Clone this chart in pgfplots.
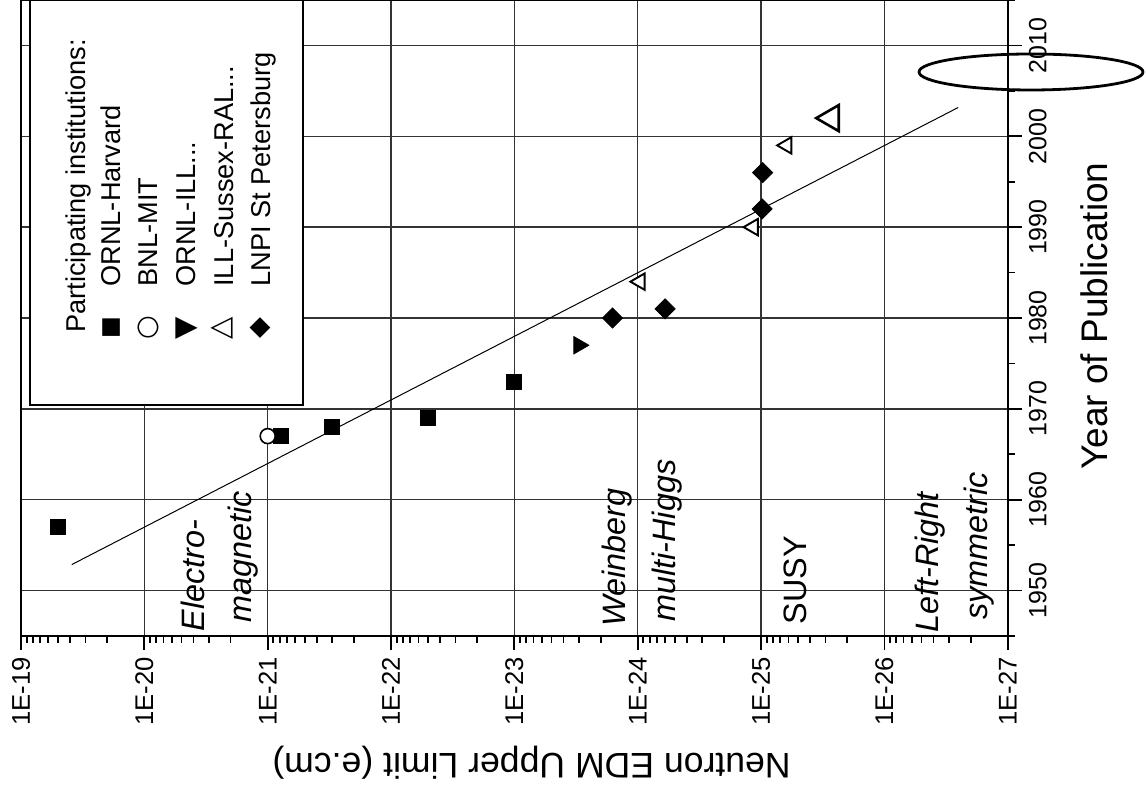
\documentclass[border=0pt]{standalone}
\usepackage{fontspec}
\setmainfont{Liberation Sans}
\newfontfamily\symfont{DejaVu Sans}
\usepackage{pgfplots}
\pgfplotsset{compat=1.18}

\begin{document}
\begin{tikzpicture}
\begin{axis}[
  scale only axis, width=493.35pt, height=318pt,
  xmode=log, x dir=reverse, xmin=1e-27, xmax=1e-19,
  ymin=1945, ymax=2015,
  xtick={1e-27,1e-26,1e-25,1e-24,1e-23,1e-22,1e-21,1e-20,1e-19},
  xticklabels={1E-27,1E-26,1E-25,1E-24,1E-23,1E-22,1E-21,1E-20,1E-19},
  minor xtick={2e-27,3e-27,4e-27,5e-27,6e-27,7e-27,8e-27,9e-27,
               2e-26,3e-26,4e-26,5e-26,6e-26,7e-26,8e-26,9e-26,
               2e-25,3e-25,4e-25,5e-25,6e-25,7e-25,8e-25,9e-25,
               2e-24,3e-24,4e-24,5e-24,6e-24,7e-24,8e-24,9e-24,
               2e-23,3e-23,4e-23,5e-23,6e-23,7e-23,8e-23,9e-23,
               2e-22,3e-22,4e-22,5e-22,6e-22,7e-22,8e-22,9e-22,
               2e-21,3e-21,4e-21,5e-21,6e-21,7e-21,8e-21,9e-21,
               2e-20,3e-20,4e-20,5e-20,6e-20,7e-20,8e-20,9e-20},
  ytick={1950,1960,1970,1980,1990,2000,2010},
  minor ytick={1945,1955,1965,1975,1985,1995,2005,2015},
  xtick pos=bottom, ytick pos=right, yticklabel pos=right,
  tick align=outside,
  major tick length=7pt, minor tick length=3.5pt,
  grid=major,
  major grid style={black!80, line width=0.7pt},
  axis line style={line width=1.2pt},
  tick style={black, line width=0.9pt},
  /pgf/number format/1000 sep={},
  /pgf/number format/assume math mode=true,
  xticklabel style={rotate=90, anchor=east, font=\fontsize{12.8}{14}\selectfont},
  yticklabel style={rotate=90, anchor=north, font=\fontsize{12.5}{14}\selectfont},
  every axis x label/.style={at={(rel axis cs:0.5174,-0.184)}, anchor=base, rotate=180, font=\fontsize{17.8}{20}\selectfont},
  xlabel={Neutron EDM Upper Limit (e.cm)},
  every axis y label/.style={at={(rel axis cs:1.1006,0.5031)}, anchor=base, rotate=90, font=\fontsize{18.5}{20}\selectfont},
  ylabel={Year of Publication},
  clip=false,
]
% fit line
\addplot[black, line width=0.5pt] coordinates {(3.88e-20,1952.86) (2.52e-27,2003.17)};
% ORNL-Harvard
\addplot[only marks, mark=square*, mark size=3.75pt, black] coordinates {
  (5e-20,1957) (7.8e-22,1967) (3e-22,1968) (5e-23,1969) (1e-23,1973)};
% BNL-MIT
\addplot[only marks, mark=*, mark size=3.75pt, black, mark options={fill=white, line width=0.8pt}] coordinates {
  (1e-21,1967)};
% ORNL-ILL
\addplot[only marks, mark=triangle*, mark size=5pt, black, mark options={rotate=-90}] coordinates {
  (3e-24,1977)};
% ILL-Sussex-RAL
\addplot[only marks, mark=triangle*, mark size=4.75pt, black, mark options={rotate=90, fill=white, line width=0.95pt}] coordinates {
  (9.6e-25,1984) (1.16e-25,1990) (6.2e-26,1999)};
\addplot[only marks, mark=triangle*, mark size=7.5pt, black, mark options={rotate=90, fill=white, line width=1.3pt}] coordinates {
  (2.7e-26,2002)};
% LNPI St Petersburg
\addplot[only marks, mark=square*, mark size=3.54pt, black, mark options={rotate=45}] coordinates {
  (1.6e-24,1980) (6e-25,1981) (9.8e-26,1992) (9.7e-26,1996)};
\end{axis}

\begin{scope}[x=0.5pt, y=-0.5pt, shift={(current axis.south west)}, shift={(-21,-636)}]
  % legend
  \draw[fill=white, line width=1pt] (30,0) rectangle (303,405);
  \begin{scope}[every node/.style={rotate=90, inner sep=0pt, font=\fontsize{13.6}{16}\selectfont}]
    \node[anchor=base west] at (85,333) {Participating institutions:};
    \node[anchor=base west] at (120,287) {ORNL-Harvard};
    \node[anchor=base west] at (157,287) {BNL-MIT};
    \node[anchor=base west] at (195,287) {ORNL-ILL...};
    \node[anchor=base west] at (233,287) {ILL-Sussex-RAL...};
    \node[anchor=base west] at (270,287) {LNPI St Petersburg};
    \node[anchor=center] at (112,328) {\fontsize{11.5}{14}\symfont ■};
    \node[anchor=center] at (148,328) {\symfont ○};
    \node[anchor=center] at (187,328) {\fontsize{14.5}{16}\symfont ▼};
    \node[anchor=center] at (222,328) {\fontsize{14.5}{16}\symfont △};
    \node[anchor=center] at (260,328) {\symfont ◆};
  \end{scope}
  % annotations
  \begin{scope}[every node/.style={rotate=90, inner sep=0pt, anchor=base west, font=\fontsize{16.2}{18}\selectfont}]
    \node at (204,632) {\itshape Electro-};
    \node at (251,623) {\itshape magnetic};
    \node at (625,627) {\itshape Weinberg};
    \node at (675,622) {\itshape multi-Higgs};
    \node at (806,625) {SUSY};
    \node at (938,633) {\itshape Left-Right};
    \node at (987,620) {\itshape symmetric};
  \end{scope}
  % highlight ellipse
  \draw[line width=1.4pt] (1031,72) ellipse [x radius=56pt, y radius=9pt];
  \pgfresetboundingbox
  \path[use as bounding box] (0,0) rectangle (1146,796);
\end{scope}
\end{tikzpicture}
\end{document}
